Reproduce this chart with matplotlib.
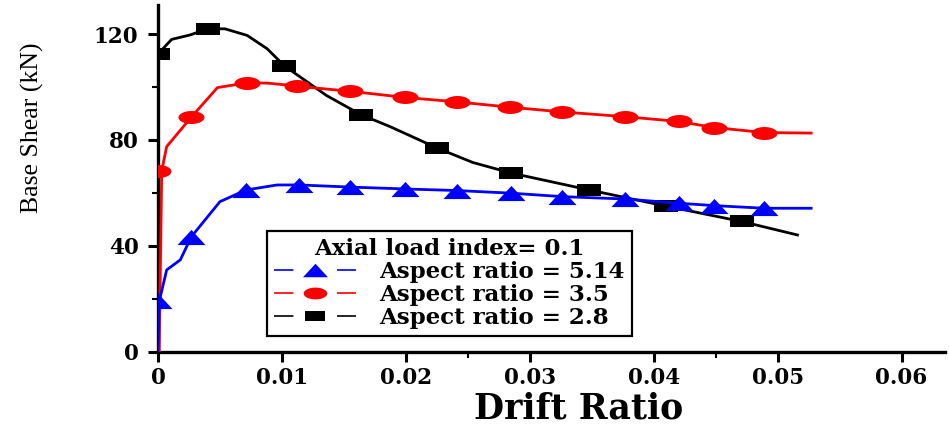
import numpy as np
import matplotlib
matplotlib.use("Agg")
import matplotlib.pyplot as plt
from matplotlib.lines import Line2D
from matplotlib.path import Path

plt.rcParams['lines.scale_dashes'] = False

# ---------------- data ----------------
# Aspect ratio = 5.14 (blue, triangles)
blue_line_x = [0, 0.0001, 0.0007, 0.0018, 0.0027, 0.0050, 0.0071, 0.0096, 0.0114, 0.0155,
               0.0199, 0.0241, 0.0285, 0.0326, 0.0377, 0.0420, 0.0449, 0.0489, 0.0527]
blue_line_y = [0, 19.0, 30.9, 34.7, 43.5, 56.7, 61.1, 63.0, 63.0, 62.2,
               61.5, 60.9, 59.9, 58.6, 57.7, 56.1, 55.2, 54.2, 54.2]
blue_mark_x = [0, 0.0027, 0.0071, 0.0114, 0.0155, 0.0199, 0.0241, 0.0285, 0.0326,
               0.0377, 0.0420, 0.0449, 0.0489]
blue_mark_y = [19.0, 43.5, 61.1, 63.0, 62.2, 61.5, 60.9, 59.9, 58.6,
               57.7, 56.1, 55.2, 54.2]

# Aspect ratio = 3.5 (red, circles)
red_line_x = [0.0001, 0.0003, 0.0007, 0.0027, 0.0048, 0.0072, 0.0088, 0.0112, 0.0128, 0.0155,
              0.0199, 0.0241, 0.0284, 0.0326, 0.0377, 0.0420, 0.0449, 0.0489, 0.0527]
red_line_y = [0, 68.3, 77.5, 88.7, 99.8, 101.6, 101.5, 100.4, 99.6, 98.4,
              96.1, 94.4, 92.4, 90.6, 88.8, 87.0, 84.7, 82.8, 82.6]
red_mark_x = [0, 0.0027, 0.0072, 0.0112, 0.0155, 0.0199, 0.0241, 0.0284, 0.0326,
              0.0377, 0.0420, 0.0449, 0.0489]
red_mark_y = [68.3, 88.7, 101.6, 100.4, 98.4, 96.1, 94.4, 92.4, 90.6,
              88.8, 87.0, 84.7, 82.8]

# Aspect ratio = 2.8 (black, squares)
black_line_x = [0, 0, 0.0011, 0.0026, 0.0040, 0.0054, 0.0072, 0.0088, 0.0102, 0.0136,
                0.0164, 0.0187, 0.0225, 0.0254, 0.0285, 0.0348, 0.0410, 0.0471, 0.0516]
black_line_y = [0, 112.5, 118.0, 119.7, 122.0, 122.0, 119.5, 114.5, 108.0, 96.8,
                89.5, 85.1, 77.0, 71.5, 67.5, 61.1, 55.0, 49.2, 44.1]
black_mark_x = [0, 0.0040, 0.0102, 0.0164, 0.0225, 0.0285, 0.0348, 0.0410, 0.0471]
black_mark_y = [112.5, 122.0, 108.0, 89.5, 77.0, 67.5, 61.1, 55.0, 49.2]

series_labels = ['Aspect ratio = 5.14', 'Aspect ratio = 3.5', 'Aspect ratio = 2.8']
legend_title = 'Axial load index= 0.1'
x_ticks = [0, 0.01, 0.02, 0.03, 0.04, 0.05, 0.06]
x_tick_labels = ['0', '0.01', '0.02', '0.03', '0.04', '0.05', '0.06']
y_ticks = [0, 40, 80, 120]
y_tick_labels = ['0', '40', '80', '120']

# ---------------- markers (flattened shapes) ----------------
tri_marker = Path([(-1, -0.54), (1, -0.54), (0, 0.54), (-1, -0.54)],
                  [Path.MOVETO, Path.LINETO, Path.LINETO, Path.CLOSEPOLY])
rect_marker = Path([(-1, -0.5), (1, -0.5), (1, 0.5), (-1, 0.5), (-1, -0.5)],
                   [Path.MOVETO, Path.LINETO, Path.LINETO, Path.LINETO, Path.CLOSEPOLY])
t = np.linspace(0, 2 * np.pi, 60)
ell_marker = Path(np.column_stack([np.cos(t), 0.5 * np.sin(t)]))

BLUE = '#0000ff'
RED = '#ff0000'
BLACK = '#000000'

fig = plt.figure(figsize=(9.49, 4.25), dpi=100)
ax = fig.add_axes([158 / 949, 1 - 351.7 / 425, (945 - 158) / 949, (351.7 - 5) / 425])

lw = 2.0
ax.plot(black_line_x, black_line_y, color=BLACK, lw=lw, zorder=2)
ax.plot(black_mark_x, black_mark_y, ls='none', marker=rect_marker, ms=17.3,
        color=BLACK, mew=0, zorder=3)
ax.plot(red_line_x, red_line_y, color=RED, lw=lw, zorder=4)
ax.plot(red_mark_x, red_mark_y, ls='none', marker=ell_marker, ms=18.7,
        color=RED, mew=0, zorder=5)
ax.plot(blue_line_x, blue_line_y, color=BLUE, lw=lw, zorder=6)
ax.plot(blue_mark_x, blue_mark_y, ls='none', marker=tri_marker, ms=20.2,
        color=BLUE, mew=0, zorder=7)

ax.set_xlim(0, 0.0635)
ax.set_ylim(0, 131)

for s in ['top', 'right']:
    ax.spines[s].set_visible(False)
for s in ['left', 'bottom']:
    ax.spines[s].set_linewidth(2.4)

tick_font = dict(family='DejaVu Serif', weight='bold', size=15.5)
ax.set_xticks(x_ticks)
ax.set_xticklabels(x_tick_labels, fontdict=tick_font)
ax.set_yticks(y_ticks)
ax.set_yticklabels(y_tick_labels, fontdict=tick_font)
ax.set_xticks([0.025, 0.045], minor=True)
ax.set_yticks([20, 60, 100], minor=True)
ax.tick_params(axis='both', which='major', direction='out', length=7, width=2.2)
ax.tick_params(axis='both', which='minor', direction='out', length=4, width=1.5)
ax.tick_params(axis='x', which='major', pad=4)
ax.tick_params(axis='y', which='major', pad=7)

ax.set_ylabel('Base Shear (kN)', family='Liberation Serif', size=18.5, va='center')
ax.yaxis.set_label_coords(-0.159, 0.645)
ax.set_xlabel('Drift Ratio', family='DejaVu Serif', weight='bold', size=25, va='center')
ax.xaxis.set_label_coords(0.535, -0.165)

def handle(color, marker, ms):
    ln = Line2D([], [], color=color, lw=1.2, linestyle=(0, (14, 31.4)))
    mk = Line2D([], [], color=color, ls='none', marker=marker, ms=ms, mew=0)
    return (ln, mk)

handles = [handle(BLUE, tri_marker, 18), handle(RED, ell_marker, 17), handle(BLACK, rect_marker, 15)]
leg = ax.legend(handles, series_labels, title=legend_title,
                loc='upper left', bbox_to_anchor=(267 / 949, 1 - 231 / 425),
                bbox_transform=fig.transFigure, borderaxespad=0,
                prop=dict(family='DejaVu Serif', weight='bold', size=16.5),
                title_fontproperties=dict(family='DejaVu Serif', weight='bold', size=16.5),
                handlelength=3.6, handletextpad=1.0, labelspacing=0.05,
                borderpad=0.3, frameon=True, fancybox=False, framealpha=1,
                edgecolor='black')
leg.get_frame().set_linewidth(1.6)

fig.savefig('out.png', dpi=100)
